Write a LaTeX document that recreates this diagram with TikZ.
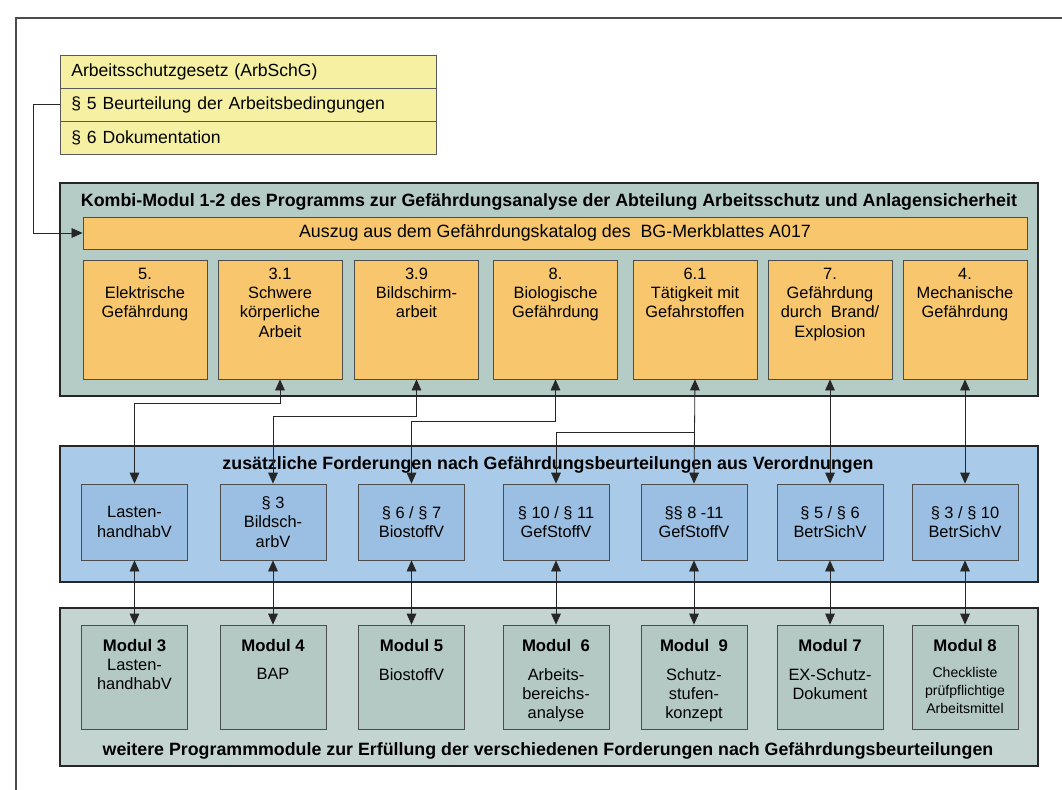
\documentclass[tikz,border=0pt]{standalone}
\usepackage{fontspec}
\setmainfont{Liberation Sans}
\usetikzlibrary{arrows.meta}

\definecolor{gelb}{HTML}{F6F0A2}
\definecolor{gruen}{HTML}{B5CBC6}
\definecolor{orange}{HTML}{F8C66C}
\definecolor{blaupanel}{HTML}{A9CAE8}
\definecolor{blaufeld}{HTML}{9ABFE2}
\definecolor{graupanel}{HTML}{C4D5D1}
\definecolor{graufeld}{HTML}{B4C9C4}

\tikzset{
  zeile/.style={draw=black!65,fill=gelb,minimum width=11.28cm,minimum height=0.99cm,
    text width=10.6cm,inner xsep=0.34cm,align=left,font=\fontsize{15}{17}\selectfont},
  panel/.style={draw=black!85,line width=1.2pt,minimum width=29.34cm,inner sep=0pt},
  titel/.style={font=\fontsize{15.2}{17}\selectfont\bfseries},
  feld/.style={draw=black!70,line width=0.7pt,inner sep=0pt},
  gbox/.style={feld,fill=orange,minimum width=3.72cm,minimum height=3.57cm},
  vbox/.style={feld,fill=blaufeld,minimum width=3.18cm,minimum height=2.28cm,align=center},
  mbox/.style={feld,fill=graufeld,minimum width=3.18cm,minimum height=3.12cm},
  modkopf/.style={font=\fontsize{14.3}{17}\selectfont\bfseries},
  pfeil/.style={<->,draw=black!85,line width=0.7pt}
}

\begin{document}
\begin{tikzpicture}[x=0.03cm,y=-0.03cm,>={Triangle[length=0.33cm,width=0.29cm]},
  font=\fontsize{14}{16.5}\selectfont]
  \useasboundingbox (0,0) rectangle (1062,790);
  \draw[black!70,line width=1.6pt] (1062,18) -- (16,18) -- (16,790);

  % Gesetz
  \node[zeile] (gesetz) at (248,71.5) {Arbeitsschutzgesetz (ArbSchG)};
  \node[zeile] (para5) at (248,104.5) {\S~5 Beurteilung der Arbeitsbedingungen};
  \node[zeile] (para6) at (248,137.5) {\S~6 Dokumentation};

  % Kombi-Modul
  \node[panel,fill=gruen,minimum height=6.39cm] (kombi) at (549,289.5) {};
  \node[titel] (kombititel) at (549,202) {Kombi-Modul 1-2 des Programms zur Gefährdungsanalyse der Abteilung Arbeitsschutz und Anlagensicherheit};
  \node[feld,fill=orange,minimum width=28.32cm,minimum height=0.96cm,font=\fontsize{15.2}{17}\selectfont] (auszug) at (555,233)
    {Auszug aus dem Gefährdungskatalog des~~BG-Merkblattes A017};
  \foreach \n/\x/\t in {1/145/{5.\\Elektrische\\Gefährdung},
      2/280/{3.1\\Schwere\\körperliche\\Arbeit},
      3/416.5/{3.9\\Bildschirm-\\arbeit},
      4/555.5/{8.\\Biologische\\Gefährdung},
      5/695/{6.1\\Tätigkeit mit\\Gefahrstoffen},
      6/830/{7.\\Gefährdung\\durch~~Brand/\\Explosion},
      7/965/{4.\\Mechanische\\Gefährdung}}{
    \node[gbox] (g\n) at (\x,319.5) {};
    \node[anchor=north,align=center] (gt\n) at ([yshift=-0.12cm]g\n.north) {\t};
  }

  % Verordnungen
  \node[panel,fill=blaupanel,minimum height=4.08cm] (zusatz) at (549,514) {};
  \node[titel] (zusatztitel) at (548,465) {zusätzliche Forderungen nach Gefährdungsbeurteilungen aus Verordnungen};
  \foreach \n/\x/\t in {1/134.5/{Lasten-\\handhabV},
      2/273/{\S~3\\Bildsch-\\arbV},
      3/411.5/{\S~6 / \S~7\\BiostoffV},
      4/556/{\S~10 / \S~11\\GefStoffV},
      5/694/{\S\S~8 -11\\GefStoffV},
      6/830/{\S~5 / \S~6\\BetrSichV},
      7/965/{\S~3 / \S~10\\BetrSichV}}{
    \node[vbox] (v\n) at (\x,522) {\t};
  }

  % Programmmodule
  \node[panel,fill=graupanel,minimum height=4.74cm] (weitere) at (549,687) {};
  \node[titel] (weiteretitel) at (548,751) {weitere Programmmodule zur Erfüllung der verschiedenen Forderungen nach Gefährdungsbeurteilungen};
  \foreach \n/\x/\k/\y/\s/\bs/\t in {1/134.5/3/655/14/16.5/{Lasten-\\handhabV},
      2/273/4/664/14/16.5/{BAP},
      3/411.5/5/664/14/16.5/{BiostoffV},
      4/556/{~6}/664/14/16.5/{Arbeits-\\bereichs-\\analyse},
      5/694/{~9}/664/14/16.5/{Schutz-\\stufen-\\konzept},
      6/830/7/664/14/16.5/{EX-Schutz-\\Dokument},
      7/965/8/663/12/15.5/{Checkliste\\prüfpflichtige\\Arbeitsmittel}}{
    \node[mbox] (m\n) at (\x,677) {};
    \node[modkopf,anchor=north] (mk\n) at ([yshift=-0.33cm]m\n.north) {Modul~\k};
    \node[anchor=north,align=center,font=\fontsize{\s}{\bs}\selectfont] (mt\n) at (\x,\y) {\t};
  }

  % Verbindungen
  \draw[->,draw=black!85,line width=0.7pt] (para5.west) -- ++(-26,0) |- (auszug.west);
  \draw[pfeil] (g2.south) -- ++(0,24) -| (v1.north);
  \draw[pfeil] (g3.south) -- ++(0,37) -| (v2.north);
  \draw[pfeil] (g4.south) -- ++(0,42) -| (v3.north);
  \draw[pfeil] (g5.south) -- (v5.north);
  \draw[->,draw=black!85,line width=0.7pt] (g5.south) ++(0,53) -| (v4.north);
  \draw[pfeil] (g6.south) -- (v6.north);
  \draw[pfeil] (g7.south) -- (v7.north);
  \foreach \n in {1,...,7}
    \draw[pfeil] (v\n.south) -- (m\n.north);
\end{tikzpicture}
\end{document}
